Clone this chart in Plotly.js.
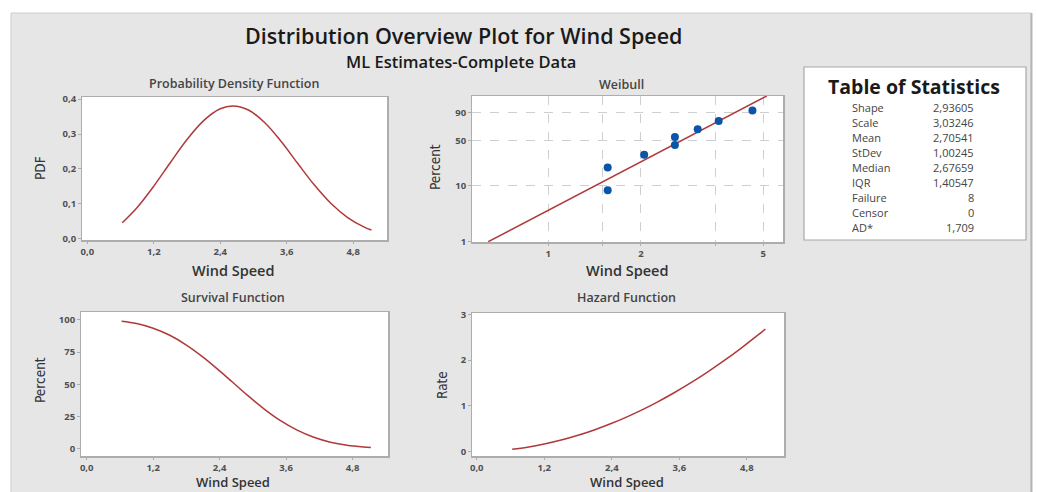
<!DOCTYPE html>
<html><head><meta charset="utf-8">
<script src="https://cdn.plot.ly/plotly-3.0.1.min.js"></script>
<style>html,body{margin:0;padding:0;background:#fff;}#chart{width:1037px;height:492px;}</style>
</head><body><div id="chart"></div>
<script>
// ---- data ----
const windSpeed = [0.63, 0.9, 1.2, 1.5, 1.8, 2.1, 2.4, 2.63, 2.9, 3.2, 3.5, 3.8, 4.1, 4.4, 4.7, 5.0, 5.13];
const pdfValues = [0.0458, 0.0896, 0.1507, 0.2184, 0.2842, 0.3384, 0.3723, 0.3805, 0.3694, 0.3331, 0.2785, 0.2153, 0.1536, 0.1007, 0.0605, 0.0331, 0.0248];
const survivalPercent = [99.01, 97.21, 93.63, 88.10, 80.55, 71.17, 60.44, 51.76, 41.58, 30.99, 21.78, 14.36, 8.84, 5.06, 2.67, 1.30, 0.93];
const hazardRate = [0.046, 0.092, 0.161, 0.248, 0.353, 0.476, 0.616, 0.735, 0.888, 1.075, 1.279, 1.499, 1.737, 1.991, 2.263, 2.550, 2.680];

const weibullSpeed = [1.56, 1.56, 2.05, 2.58, 2.58, 3.06, 3.58, 4.61];
const weibullPercent = [8.33, 20.24, 32.14, 44.05, 55.95, 67.86, 79.76, 91.67];
const fitLineSpeed = [0.638, 5.13];
const fitLinePercent = [1.0, 98.96];
const weibullPctTicks = [1, 10, 50, 90];
const weibullPctLabels = ['1', '10', '50', '90'];
const weibullSpeedTicks = [1, 1.5, 2, 3.5, 5];
const weibullSpeedLabels = ['1', '', '2', '', '5'];

const statLabels = ['Shape', 'Scale', 'Mean', 'StDev', 'Median', 'IQR', 'Failure', 'Censor', 'AD*'];
const statValues = ['2,93605', '3,03246', '2,70541', '1,00245', '2,67659', '1,40547', '8', '0', '1,709'];

// ---- helpers ----
const W = 1037, H = 492;
const fx = p => p / W, fy = p => 1 - p / H;
const wb = p => Math.log(-Math.log(1 - p / 100)); // Weibull probability scale
const F = "'Open Sans', 'Noto Sans', sans-serif";
const NARROW = "'Liberation Sans Narrow', 'DejaVu Sans Condensed', 'Arial Narrow', sans-serif";
const RED = '#b0393a';
const BLUE = '#0a55a8';

const traces = [
  {x: windSpeed, y: pdfValues, xaxis: 'x', yaxis: 'y', mode: 'lines', line: {color: RED, width: 1.5, shape: 'spline'}, hoverinfo: 'skip'},
  {x: fitLineSpeed, y: fitLinePercent.map(wb), xaxis: 'x2', yaxis: 'y2', mode: 'lines', line: {color: RED, width: 1.5}, hoverinfo: 'skip'},
  {x: weibullSpeed, y: weibullPercent.map(wb), xaxis: 'x2', yaxis: 'y2', mode: 'markers', marker: {color: BLUE, size: 8}, hoverinfo: 'skip'},
  {x: windSpeed, y: survivalPercent, xaxis: 'x3', yaxis: 'y3', mode: 'lines', line: {color: RED, width: 1.5, shape: 'spline'}, hoverinfo: 'skip'},
  {x: windSpeed, y: hazardRate, xaxis: 'x4', yaxis: 'y4', mode: 'lines', line: {color: RED, width: 1.5, shape: 'spline'}, hoverinfo: 'skip'}
];

const base = {
  showline: true, mirror: true, linecolor: '#adadad', linewidth: 1.5,
  ticks: 'outside', ticklen: 2.5, tickcolor: '#adadad', tickwidth: 1,
  showgrid: false, zeroline: false, fixedrange: true,
  tickfont: {family: F, size: 9.5, color: '#505050', weight: 700}
};
const ax = o => Object.assign({}, base, o);

const annotations = [];
function txt(text, x, y, opts) {
  annotations.push(Object.assign({
    text: text, x: fx(x), y: fy(y), xref: 'paper', yref: 'paper',
    showarrow: false, xanchor: 'center', yanchor: 'middle', borderpad: 0
  }, opts || {}));
}
const ttl = (s, w) => ({family: F, size: s, color: '#1a1a1a', weight: w || 600});
const sub = {family: F, size: 12.5, color: '#444444', weight: 600};
const axt = {family: F, size: 14.5, color: '#333333', weight: 600};
const axtB = {family: F, size: 13, color: '#333333', weight: 600};
const yt = {family: NARROW, size: 13.5, color: '#333333'};
const st = {family: F, size: 11, color: '#444444'};

txt('Distribution Overview Plot for Wind Speed', 463.5, 36, {font: ttl(21.5)});
txt('ML Estimates-Complete Data', 461, 62, {font: ttl(16.5)});
txt('Probability Density Function', 234, 83, {font: sub});
txt('Weibull', 621, 84, {font: sub});
txt('Survival Function', 233, 297, {font: sub});
txt('Hazard Function', 626, 297, {font: sub});
txt('Wind Speed', 233, 270, {font: axt});
txt('Wind Speed', 627, 270, {font: axt});
txt('Wind Speed', 233, 491.8, {font: axtB, yanchor: 'bottom'});
txt('Wind Speed', 627, 491.8, {font: axtB, yanchor: 'bottom'});
txt('PDF', 40, 168, {textangle: -90, font: yt});
txt('Percent', 435, 167, {textangle: -90, font: yt});
txt('Percent', 40, 380, {textangle: -90, font: yt});
txt('Rate', 442, 385, {textangle: -90, font: yt});
txt('Table of Statistics', 913.5, 86.5, {font: ttl(19.5, 700)});
statLabels.forEach((lab, i) => {
  const y = 107.5 + i * 15.0;
  txt(lab, 851, y, {xanchor: 'left', font: st});
  txt(statValues[i], 975, y, {xanchor: 'right', font: st});
});

const whiteBg = a => ({type: 'rect', xref: a[0] + ' domain', yref: a[1] + ' domain', x0: 0, x1: 1, y0: 0, y1: 1,
  fillcolor: '#ffffff', line: {width: 0}, layer: 'below'});

const layout = {
  width: W, height: H, margin: {l: 0, r: 0, t: 0, b: 0},
  paper_bgcolor: '#ffffff', plot_bgcolor: 'rgba(0,0,0,0)',
  showlegend: false, separators: ',.',
  font: {family: F},
  xaxis: ax({domain: [fx(82), fx(387)], range: [-0.096, 5.41], tick0: 0, dtick: 1.2, tickformat: '.1f', anchor: 'y'}),
  yaxis: ax({domain: [fy(240), fy(97)], range: [-0.0037, 0.406], tick0: 0, dtick: 0.1, tickformat: '.1f', anchor: 'x'}),
  xaxis2: ax({domain: [fx(472), fx(783)], type: 'log', range: [-0.248, 0.763], tickmode: 'array',
    tickvals: weibullSpeedTicks, ticktext: weibullSpeedLabels, anchor: 'y2',
    showgrid: true, gridcolor: '#cfcfcf', griddash: 'dash', gridwidth: 1}),
  yaxis2: ax({domain: [fy(242), fy(96)], range: [-4.613, 1.519], tickmode: 'array',
    tickvals: weibullPctTicks.map(wb), ticktext: weibullPctLabels, anchor: 'x2',
    showgrid: true, gridcolor: '#cfcfcf', griddash: 'dash', gridwidth: 1}),
  xaxis3: ax({domain: [fx(81), fx(388)], range: [-0.103, 5.44], tick0: 0, dtick: 1.2, tickformat: '.1f', anchor: 'y3', ticklen: 2}),
  yaxis3: ax({domain: [fy(456), fy(312)], range: [-5.7, 106.2], tick0: 0, dtick: 25, anchor: 'x3'}),
  xaxis4: ax({domain: [fx(472), fx(784)], range: [-0.084, 5.46], tick0: 0, dtick: 1.2, tickformat: '.1f', anchor: 'y4', ticklen: 2}),
  yaxis4: ax({domain: [fy(456), fy(313)], range: [-0.1, 3.03], tick0: 0, dtick: 1, anchor: 'x4'}),
  shapes: [
    {type: 'rect', xref: 'paper', yref: 'paper', x0: fx(11), x1: fx(1031), y0: -0.01, y1: fy(13),
      fillcolor: '#e6e6e6', line: {color: '#cdcdcd', width: 1}, layer: 'below'},
    {type: 'line', xref: 'paper', yref: 'paper', x0: fx(1031.5), x1: fx(1031.5), y0: 0, y1: fy(13),
      line: {color: '#b5b5b5', width: 2}, layer: 'below'},
    {type: 'rect', xref: 'paper', yref: 'paper', x0: fx(804), x1: fx(1026), y0: fy(240), y1: fy(67),
      fillcolor: '#ffffff', line: {color: '#a8a8a8', width: 1.2}, layer: 'below'},
    whiteBg(['x', 'y']), whiteBg(['x2', 'y2']), whiteBg(['x3', 'y3']), whiteBg(['x4', 'y4'])
  ],
  annotations: annotations
};

Plotly.newPlot('chart', traces, layout, {staticPlot: true, displayModeBar: false});
</script>
</body></html>
